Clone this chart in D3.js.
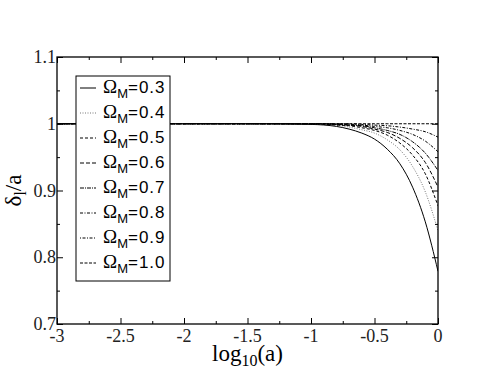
<!DOCTYPE html>
<html>
<head>
<meta charset="utf-8">
<script src="https://cdn.jsdelivr.net/npm/d3@7"></script>
<style>
  body { margin: 0; background: #fff; }
  svg { display: block; }
  .tick-label { font-family: "Liberation Serif", "Times New Roman", serif; font-size: 18px; fill: #222; }
  .axis-title { font-family: "Liberation Serif", "Times New Roman", serif; font-size: 23px; fill: #000; }
  .legend-text { font-family: "Liberation Sans", Arial, sans-serif; font-size: 17px; letter-spacing: 1px; fill: #000; }
</style>
</head>
<body>
<div id="graph"></div>
<script>
// log10(a) sample points
const logA = [-3, -1.5, -1, -0.8, -0.7, -0.6, -0.5, -0.4, -0.3, -0.2, -0.1, 0]

// Omega_M values shown in the legend
const omegas = ["0.3", "0.4", "0.5", "0.6", "0.7", "0.8", "0.9", "1.0"]

const g03 = [1, 1, 0.999, 0.996, 0.992, 0.986, 0.977, 0.962, 0.940, 0.905, 0.853, 0.779]
const g04 = [1, 1, 1, 0.998, 0.995, 0.991, 0.986, 0.976, 0.961, 0.936, 0.898, 0.840]
const g05 = [1, 1, 1, 0.998, 0.997, 0.994, 0.990, 0.983, 0.971, 0.953, 0.925, 0.877]
const g06 = [1, 1, 1, 0.999, 0.998, 0.996, 0.992, 0.987, 0.978, 0.964, 0.942, 0.905]
const g07 = [1, 1, 1, 0.999, 0.998, 0.997, 0.994, 0.990, 0.984, 0.973, 0.956, 0.930]
const g08 = [1, 1, 1, 1, 0.999, 0.998, 0.996, 0.994, 0.990, 0.984, 0.974, 0.958]
const g09 = [1, 1, 1, 1, 1, 0.999, 0.998, 0.997, 0.995, 0.992, 0.988, 0.980]
const g10 = [1, 1, 1, 1, 1, 1, 1, 1, 1, 1, 1, 1]
const seriesValues = [g03, g04, g05, g06, g07, g08, g09, g10]

// tick values
const xMajor = [-3, -2.5, -2, -1.5, -1, -0.5, 0]
const xMinor = [-2.75, -2.25, -1.75, -1.25, -0.75, -0.25]
const yMajor = [0.7, 0.8, 0.9, 1, 1.1]
const yMinor = [0.75, 0.85, 0.95, 1.05]
const xLabels = ["-3", "-2.5", "-2", "-1.5", "-1", "-0.5", "0"]
const yLabels = ["0.7", "0.8", "0.9", "1", "1.1"]

// line style per curve
const dashes = ["", "1,1.5", "3,2", "4,2", "4,1,1,1", "3,1.5,1,1.5", "1,1.5,3,1.5", "3,1.5"]
const strokes = ["#000", "#777", "#000", "#000", "#000", "#000", "#000", "#000"]

const width = 494, height = 382
const plotLeft = 57, plotRight = 438, plotTop = 57, plotBottom = 324

const svg = d3.select("#graph").append("svg")
    .attr("width", width).attr("height", height)

const xScale = d3.scaleLinear().domain([-3, 0]).range([plotLeft, plotRight])
const yScale = d3.scaleLinear().domain([0.7, 1.1]).range([plotBottom, plotTop])

// clip curves to the frame
svg.append("clipPath").attr("id", "clip")
   .append("rect").attr("x", plotLeft).attr("y", plotTop)
   .attr("width", plotRight - plotLeft).attr("height", plotBottom - plotTop)

const line = d3.line()
    .x((d, i) => xScale(logA[i]))
    .y(d => yScale(d))
    .curve(d3.curveMonotoneX)

svg.append("g").attr("clip-path", "url(#clip)")
   .selectAll("path")
   .data(seriesValues)
   .enter()
   .append("path")
   .attr("d", d => line(d))
   .attr("fill", "none")
   .attr("stroke", (d, i) => strokes[i])
   .attr("stroke-width", 1)
   .attr("stroke-dasharray", (d, i) => dashes[i])

// axes: ticks inward on all four sides
const axisStyle = g => {
    g.select(".domain").remove()
    g.selectAll("line").attr("stroke", "#000")
}
svg.append("g").attr("transform", `translate(0,${plotBottom})`)
   .call(d3.axisBottom(xScale).tickValues(xMajor).tickSize(-6).tickFormat(""))
   .call(axisStyle)
svg.append("g").attr("transform", `translate(0,${plotBottom})`)
   .call(d3.axisBottom(xScale).tickValues(xMinor).tickSize(-3).tickFormat(""))
   .call(axisStyle)
svg.append("g").attr("transform", `translate(0,${plotTop})`)
   .call(d3.axisTop(xScale).tickValues(xMajor).tickSize(-6).tickFormat(""))
   .call(axisStyle)
svg.append("g").attr("transform", `translate(0,${plotTop})`)
   .call(d3.axisTop(xScale).tickValues(xMinor).tickSize(-3).tickFormat(""))
   .call(axisStyle)
svg.append("g").attr("transform", `translate(${plotLeft},0)`)
   .call(d3.axisLeft(yScale).tickValues(yMajor).tickSize(-6).tickFormat(""))
   .call(axisStyle)
svg.append("g").attr("transform", `translate(${plotLeft},0)`)
   .call(d3.axisLeft(yScale).tickValues(yMinor).tickSize(-3).tickFormat(""))
   .call(axisStyle)
svg.append("g").attr("transform", `translate(${plotRight},0)`)
   .call(d3.axisRight(yScale).tickValues(yMajor).tickSize(-6).tickFormat(""))
   .call(axisStyle)
svg.append("g").attr("transform", `translate(${plotRight},0)`)
   .call(d3.axisRight(yScale).tickValues(yMinor).tickSize(-3).tickFormat(""))
   .call(axisStyle)

// frame
svg.append("rect")
   .attr("x", plotLeft).attr("y", plotTop)
   .attr("width", plotRight - plotLeft).attr("height", plotBottom - plotTop)
   .attr("fill", "none").attr("stroke", "#000").attr("stroke-width", 1.3)

// tick labels
svg.selectAll(".xlab").data(xMajor).enter().append("text")
   .attr("class", "tick-label")
   .attr("text-anchor", "middle")
   .attr("x", d => xScale(d))
   .attr("y", plotBottom + 18)
   .text((d, i) => xLabels[i])

svg.selectAll(".ylab").data(yMajor).enter().append("text")
   .attr("class", "tick-label")
   .attr("text-anchor", "end")
   .attr("x", plotLeft - 1)
   .attr("y", d => yScale(d) + 6)
   .text((d, i) => yLabels[i])

// axis titles
const xt = svg.append("text").attr("class", "axis-title")
   .attr("text-anchor", "middle")
   .attr("x", (plotLeft + plotRight) / 2).attr("y", plotBottom + 37)
xt.append("tspan").text("log")
xt.append("tspan").attr("dy", 5).attr("font-size", 16).text("10")
xt.append("tspan").attr("dy", -5).text("(a)")

const yt = svg.append("text").attr("class", "axis-title")
   .attr("text-anchor", "middle")
   .attr("transform", `translate(21,${(plotTop + plotBottom) / 2}) rotate(-90)`)
yt.append("tspan").text("δ")
yt.append("tspan").attr("dy", 5).attr("font-size", 16).text("l")
yt.append("tspan").attr("dy", -5).text("/a")

// legend
svg.append("rect")
   .attr("x", 76).attr("y", 76)
   .attr("width", 94).attr("height", 205)
   .attr("fill", "#fff").attr("stroke", "#000").attr("stroke-width", 1)

const legend = svg.selectAll(".legend").data(omegas).enter().append("g")
   .attr("transform", (d, i) => `translate(0,${88 + i * 25})`)

legend.append("line")
   .attr("x1", 80).attr("x2", 96).attr("y1", 0).attr("y2", 0)
   .attr("stroke", (d, i) => strokes[i])
   .attr("stroke-dasharray", (d, i) => dashes[i])

const lt = legend.append("text").attr("class", "legend-text")
   .attr("x", 103).attr("y", 5)
lt.append("tspan").attr("font-family", "Liberation Serif, serif").attr("letter-spacing", 0).attr("font-size", 19).text("Ω")
lt.append("tspan").attr("dy", 5).attr("font-size", 13).attr("letter-spacing", 0).text("M")
lt.append("tspan").attr("dy", -5).text(d => "=" + d)
</script>
</body>
</html>
